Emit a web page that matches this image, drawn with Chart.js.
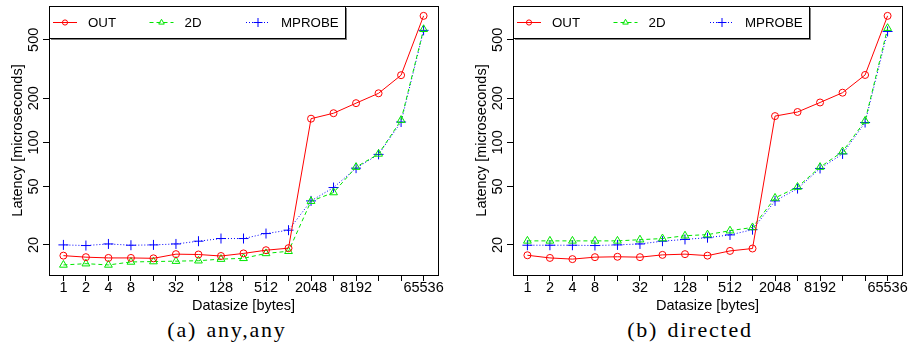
<!DOCTYPE html>
<html>
<head>
<meta charset="utf-8">
<script src="https://cdn.jsdelivr.net/npm/chart.js@4/dist/chart.umd.min.js"></script>
<style>
    html, body { margin: 0; padding: 0; background: #fff; }
    body { width: 911px; height: 346px; position: relative; overflow: hidden; }
    .panel { position: absolute; top: 0; width: 447px; height: 315px; }
    .caption {
        position: absolute; top: 317px; width: 300px; text-align: center;
        font-family: "Liberation Serif", serif; font-size: 22px; letter-spacing: 1.8px; word-spacing: 2px; color: #000;
    }
</style>
</head>
<body>
<div class="panel" style="left:0"><canvas id="chart-any" width="447" height="315"></canvas></div>
<div class="panel" style="left:464px"><canvas id="chart-directed" width="447" height="315"></canvas></div>
<div class="caption" style="left:77px">(a) any,any</div>
<div class="caption" style="left:540px">(b) directed</div>
<script>
    // datasize in bytes, 2^0 .. 2^16
    const sizes = [1, 2, 4, 8, 16, 32, 64, 128, 256, 512, 1024, 2048, 4096, 8192, 16384, 32768, 65536];
    const xTickLabels = ['1', '2', '4', '8', '', '32', '', '128', '', '512', '', '2048', '', '8192', '', '', '65536'];
    const yTicks = [20, 50, 100, 200, 500];

    // (a) any,any
    const outAny = [16.9, 16.5, 16.3, 16.3, 16.2, 17.3, 17.2, 16.8, 17.5, 18.4, 19.0, 145, 158, 185, 216, 287, 728];
    const twoDAny = [14.6, 14.9, 14.6, 15.3, 15.4, 15.5, 15.6, 16.0, 16.2, 17.5, 18.1, 39.7, 45.5, 67.8, 83.4, 141.8, 590];
    const mprobeAny = [20.0, 19.8, 20.3, 19.9, 20.0, 20.3, 21.2, 22.1, 22.1, 23.9, 25.2, 39.9, 49.2, 66.7, 82.8, 137.6, 580];

    // (b) directed
    const outDirected = [17.0, 16.3, 16.0, 16.5, 16.6, 16.5, 17.1, 17.3, 16.9, 18.2, 18.9, 151, 161, 187, 218, 288, 728];
    const twoDDirected = [21.3, 21.3, 21.3, 21.3, 21.3, 21.7, 22.1, 23.1, 23.5, 25.0, 26.3, 41.8, 49.6, 67.8, 86.5, 140, 600];
    const mprobeDirected = [19.9, 19.9, 19.9, 19.8, 20.0, 20.3, 21.2, 21.8, 22.4, 23.4, 25.4, 39.9, 48.4, 66.4, 83.4, 136.5, 570];

    const seriesNames = ['OUT', '2D', 'MPROBE'];

    const SERIES_STYLE = {
        'OUT': { color: '#ff0000', dash: [], pointStyle: 'circle', radius: 3.5, legendRadius: 2.6 },
        '2D': { color: '#00e600', dash: [4, 3], pointStyle: 'triangle', radius: 4.5, legendRadius: 3.2 },
        'MPROBE': { color: '#0000ff', dash: [1, 2], pointStyle: 'cross', radius: 5, legendRadius: 4.5 },
    };

    const FONT = { family: '"Liberation Sans", Arial, sans-serif', size: 14.5 };

    Chart.defaults.font.family = FONT.family;
    Chart.defaults.color = '#000';

    const boxPlugin = {
        id: 'plotBox',
        afterDraw(chart) {
            const { ctx, chartArea } = chart;
            ctx.save();
            ctx.strokeStyle = '#000';
            ctx.lineWidth = 1;
            ctx.strokeRect(chartArea.left + 0.5, chartArea.top + 0.5,
                chartArea.right - chartArea.left, chartArea.bottom - chartArea.top);
            ctx.restore();
        }
    };

    // legend box drawn inside the plot, top left, like the R figure
    const insideLegendPlugin = {
        id: 'insideLegend',
        afterDraw(chart) {
            const { ctx, chartArea } = chart;
            const left = chartArea.left;
            const top = chartArea.top;
            const width = 296;
            const height = 32;
            const cy = top + 16;

            ctx.save();
            ctx.fillStyle = '#808080';
            ctx.fillRect(left + 2, top + 2, width, height);
            ctx.fillStyle = '#fff';
            ctx.fillRect(left, top, width, height);
            ctx.strokeStyle = '#000';
            ctx.lineWidth = 1;
            ctx.strokeRect(left + 0.5, top + 0.5, width, height);

            seriesNames.forEach((name, i) => {
                const style = SERIES_STYLE[name];
                const x0 = left + 4 + i * 96.5;
                ctx.strokeStyle = style.color;
                ctx.lineWidth = 1;
                ctx.setLineDash(style.dash);
                ctx.beginPath();
                ctx.moveTo(x0, cy + 0.5);
                ctx.lineTo(x0 + 24, cy + 0.5);
                ctx.stroke();
                ctx.setLineDash([]);
                ctx.fillStyle = 'rgba(0,0,0,0)';
                Chart.helpers.drawPoint(ctx, {
                    pointStyle: style.pointStyle,
                    radius: style.legendRadius,
                    borderWidth: 1,
                    rotation: 0,
                }, x0 + 12, cy + 0.5);

                ctx.fillStyle = '#000';
                ctx.font = '13.3px ' + FONT.family;
                ctx.textBaseline = 'middle';
                ctx.textAlign = 'left';
                ctx.fillText(name, x0 + 35, cy + 1);
            });
            ctx.restore();
        }
    };

    function buildDatasets(seriesValues) {
        return seriesNames.map((name, i) => {
            const style = SERIES_STYLE[name];
            return {
                label: name,
                data: seriesValues[i].map((v, idx) => ({ x: idx, y: v })),
                borderColor: style.color,
                borderWidth: 1,
                borderDash: style.dash,
                pointStyle: style.pointStyle,
                pointRadius: style.radius,
                pointBorderColor: style.color,
                pointBackgroundColor: 'rgba(0,0,0,0)',
                pointBorderWidth: 1,
                tension: 0,
                fill: false,
            };
        });
    }

    function renderChart(canvasId, seriesValues) {
        const ctx = document.getElementById(canvasId);

        return new Chart(ctx, {
            type: 'line',
            data: { datasets: buildDatasets(seriesValues) },
            options: {
                responsive: false,
                animation: false,
                layout: { padding: { top: 4, right: 9, bottom: 0, left: 0 } },
                plugins: {
                    legend: { display: false },
                    tooltip: { enabled: false },
                },
                scales: {
                    x: {
                        type: 'linear',
                        min: -0.64,
                        max: sizes.length - 1 + 0.64,
                        afterBuildTicks: (scale) => {
                            scale.ticks = sizes.map((s, idx) => ({ value: idx }));
                        },
                        afterFit: (scale) => { scale.height = 40; },
                        grid: { drawOnChartArea: false, drawTicks: true, tickLength: 6, color: '#000' },
                        border: { display: false },
                        ticks: {
                            autoSkip: false,
                            maxRotation: 0,
                            padding: -2,
                            color: '#000',
                            font: FONT,
                            callback: (value) => xTickLabels[Math.round(value)],
                        },
                        title: {
                            display: true,
                            text: 'Datasize [bytes]',
                            color: '#000',
                            font: { ...FONT, lineHeight: 1 },
                            padding: { top: 0, bottom: 2 },
                        },
                    },
                    y: {
                        type: 'logarithmic',
                        min: 12.47,
                        max: 850,
                        afterBuildTicks: (scale) => {
                            scale.ticks = yTicks.map((v) => ({ value: v }));
                        },
                        afterFit: (scale) => { scale.width = 49; },
                        grid: { drawOnChartArea: false, drawTicks: true, tickLength: 6, color: '#000' },
                        border: { display: false },
                        ticks: {
                            minRotation: 90,
                            maxRotation: 90,
                            crossAlign: 'center',
                            padding: -3,
                            color: '#000',
                            font: FONT,
                            callback: (value) => String(value),
                        },
                        title: {
                            display: true,
                            text: 'Latency [microseconds]',
                            color: '#000',
                            font: { ...FONT, lineHeight: 1 },
                            padding: { top: 11, bottom: 0 },
                        },
                    },
                },
            },
            plugins: [boxPlugin, insideLegendPlugin],
        });
    }

    renderChart('chart-any', [outAny, twoDAny, mprobeAny]);
    renderChart('chart-directed', [outDirected, twoDDirected, mprobeDirected]);
</script>
</body>
</html>
